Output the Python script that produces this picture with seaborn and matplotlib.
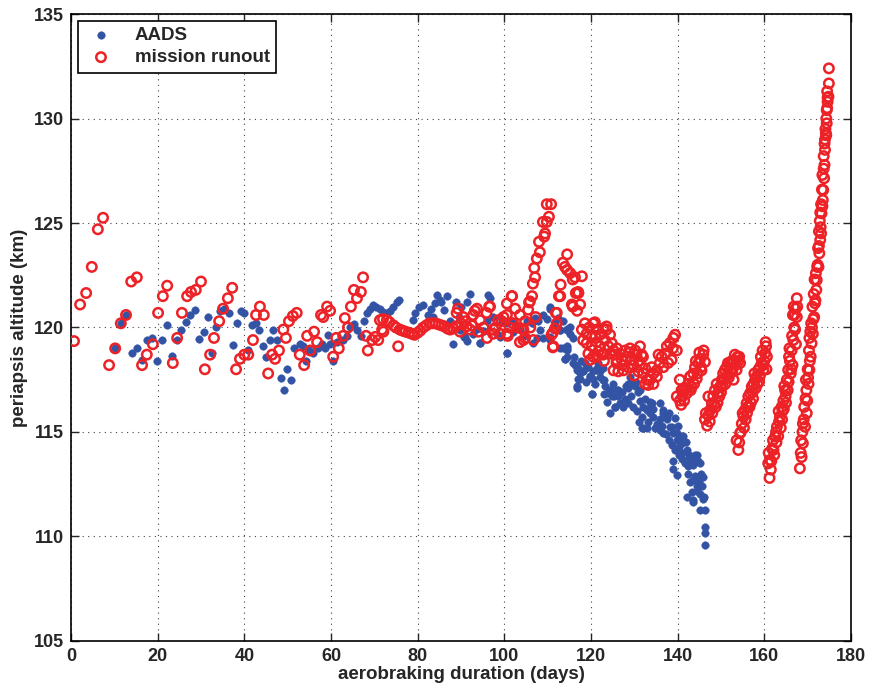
import matplotlib
matplotlib.use("Agg")
import matplotlib.pyplot as plt
import pandas as pd
import seaborn as sns

# AADS points (day, periapsis km)
aads_early = [(10.2, 119.0), (11.5, 120.2), (12.7, 120.6), (14.0, 118.8), (15.2, 119.0), (16.5, 118.45),
              (17.6, 119.4), (18.8, 119.5), (19.9, 118.4), (21.1, 119.4), (22.2, 120.1), (23.3, 118.65),
              (24.4, 119.4), (25.5, 119.9), (26.5, 120.25), (27.5, 120.6), (28.6, 120.85), (29.6, 119.45),
              (30.6, 119.8), (31.6, 120.5), (32.6, 118.8), (33.5, 120.0), (34.5, 120.8), (35.4, 120.9),
              (36.4, 120.7), (37.3, 119.15), (38.2, 120.2), (39.2, 120.8), (40.0, 120.7), (40.9, 118.9),
              (41.7, 120.1), (42.7, 120.2), (43.3, 119.9)]
aads_mid = [(44.4, 119.1), (45.0, 118.6), (45.9, 119.4), (46.7, 119.9), (47.6, 119.4), (48.4, 117.6),
            (49.2, 117.0), (49.9, 118.0), (50.7, 117.5), (51.5, 119.0), (52.8, 119.2), (53.5, 119.1),
            (54.2, 118.4), (55.0, 118.9), (55.9, 118.8), (57.1, 119.0), (57.9, 119.2), (58.6, 119.0),
            (59.2, 119.65), (59.8, 119.2), (60.5, 118.4), (61.5, 119.3), (62.8, 119.4), (63.6, 119.6),
            (64.4, 120.0), (65.3, 120.15), (66.1, 119.9), (66.9, 119.6), (67.6, 120.3), (68.2, 120.7),
            (69.0, 120.9), (69.6, 121.1), (70.4, 121.0), (71.3, 120.9), (72.1, 120.75), (72.9, 120.7),
            (73.6, 120.8), (74.4, 121.0), (75.2, 121.2), (75.8, 121.3)]
aads_plateau = [(79.0, 120.35), (79.4, 120.7), (80.2, 121.0), (81.2, 121.1), (82.3, 120.6), (83.0, 120.9),
                (83.6, 120.5), (84.0, 121.15), (84.5, 121.55), (85.5, 121.2), (86.1, 120.85), (86.7, 121.5),
                (87.5, 120.3), (88.2, 119.2), (88.8, 121.2), (89.8, 119.9), (90.0, 121.0), (90.6, 119.55),
                (91.3, 119.35), (91.5, 121.2), (92.1, 121.6), (92.8, 119.7), (93.6, 119.95), (94.4, 119.25),
                (95.2, 119.85), (95.9, 120.3), (96.3, 121.55), (97.5, 120.5), (98.2, 119.7), (99.4, 120.3),
                (100.6, 118.8), (85.2, 121.3), (90.9, 119.55), (94.4, 119.25), (96.7, 121.4), (99.0, 119.55),
                (89.5, 120.5)]
aads_decline = [(99.8, 120.35), (100.6, 120.2), (101.7, 120.3), (102.9, 120.05), (103.6, 119.95),
                (105.2, 120.3), (106.3, 120.2), (107.1, 120.45), (107.8, 120.3), (109.0, 120.6),
                (109.8, 120.4), (110.5, 120.9), (111.7, 120.2), (112.5, 120.45), (113.6, 120.3),
                (114.4, 119.9), (115.2, 120.0), (100.6, 118.8), (107.5, 119.5), (109.0, 119.5),
                (110.5, 119.4), (112.9, 119.0), (114.4, 118.9), (114.4, 118.6), (115.9, 118.3),
                (116.7, 117.95), (117.5, 117.55), (118.2, 117.9), (119.0, 118.1), (119.8, 117.7),
                (120.5, 117.55), (122.1, 117.65), (121.3, 117.95), (122.8, 117.5), (116.7, 117.1),
                (124.4, 117.0), (125.9, 117.0), (125.2, 116.7), (107.5, 120.35), (110.5, 121.0),
                (108.2, 119.9), (106.7, 119.25), (110.5, 119.55), (112.9, 119.9), (114.4, 119.1),
                (114.0, 118.5), (104.5, 119.6), (102.0, 119.8)]
aads_drop = [(112.85, 119.9), (114.4, 119.95), (115.2, 119.7), (115.9, 119.5), (113.6, 119.0), (114.4, 119.0),
             (114.0, 118.5), (116.3, 118.2), (117.1, 118.05), (117.5, 117.8), (118.2, 117.9), (116.7, 117.2),
             (117.1, 117.55), (118.6, 118.3), (119.4, 118.1), (119.8, 117.65), (120.5, 117.9), (121.3, 118.05),
             (122.1, 117.9), (122.8, 118.05), (120.2, 116.8), (123.2, 117.2), (124.0, 116.85), (123.6, 116.45),
             (124.8, 116.7), (124.4, 115.9), (125.5, 116.2), (126.3, 116.7), (127.1, 116.9), (127.9, 116.6),
             (128.6, 117.1), (129.4, 117.3), (130.2, 117.2), (130.9, 116.9), (128.6, 116.4), (127.5, 116.2),
             (129.8, 116.2), (131.3, 116.5), (132.1, 116.2), (132.9, 116.05), (133.6, 116.2), (131.7, 115.7),
             (131.7, 115.2), (132.9, 115.2), (133.6, 115.9), (134.4, 115.7), (135.2, 115.4), (135.9, 115.6),
             (136.7, 115.9), (135.9, 115.1), (137.5, 115.6), (138.2, 115.25), (137.9, 114.6), (139.0, 114.95),
             (139.8, 114.6), (140.6, 114.8), (140.9, 114.45), (139.4, 114.15), (139.0, 113.6), (140.2, 113.9),
             (141.7, 113.5), (142.5, 113.35), (143.2, 113.65), (144.4, 113.9), (145.2, 113.5), (142.5, 113.0),
             (143.6, 112.7), (144.4, 112.4), (143.2, 112.15), (145.2, 112.05), (145.5, 113.0), (145.9, 112.85),
             (142.1, 111.9), (143.6, 111.65), (145.9, 111.8), (145.2, 111.25), (146.3, 111.25), (146.3, 110.45),
             (146.3, 110.15), (146.3, 109.6)]
aads_drop_extra = [(120.2, 116.8), (122.9, 117.5), (124.4, 116.85), (125.5, 116.2), (126.3, 117.0),
                   (128.6, 117.3), (129.0, 117.65), (130.5, 117.4), (131.3, 117.0), (133.6, 116.45),
                   (134.4, 116.1), (135.9, 116.4), (136.7, 116.05), (137.5, 115.7), (138.6, 115.25),
                   (139.4, 115.65), (132.1, 115.2), (135.2, 115.25), (136.7, 114.95), (139.8, 114.95),
                   (141.3, 114.8), (140.2, 114.3), (140.9, 114.0), (142.1, 114.15), (142.9, 113.8),
                   (141.7, 113.6), (143.6, 113.4), (144.0, 113.9), (144.8, 112.85), (142.9, 112.6),
                   (144.4, 112.2), (146.0, 111.9), (143.6, 111.75), (139.8, 112.95), (139.0, 113.25),
                   (116.0, 118.6), (117.8, 118.4), (118.9, 117.4), (120.9, 117.3), (121.7, 118.3),
                   (123.0, 116.8), (125.0, 117.3), (126.8, 116.4), (128.0, 117.2), (129.2, 116.7),
                   (130.6, 116.0), (131.0, 115.5), (132.5, 116.6), (133.2, 115.5), (134.0, 116.4),
                   (134.8, 115.2), (136.3, 115.3), (137.2, 114.9), (138.0, 115.9), (138.8, 114.4),
                   (140.0, 115.3), (141.0, 113.7), (141.9, 114.5), (142.7, 113.9), (143.9, 112.9),
                   (144.7, 113.6), (145.6, 112.4), (145.0, 112.6)]

# mission runout points (day, periapsis km)
runout_early = [(0.7, 119.35), (2.1, 121.1), (3.5, 121.65), (4.8, 122.9), (6.2, 124.7), (7.4, 125.25),
                (8.8, 118.2), (10.2, 119.0), (11.5, 120.2), (12.7, 120.6), (13.9, 122.2), (15.2, 122.4),
                (16.4, 118.2), (17.5, 118.7), (18.9, 119.2), (20.1, 120.7), (21.2, 121.5), (22.2, 122.0),
                (23.5, 118.3), (24.5, 119.5), (25.6, 120.7), (26.8, 121.5), (27.7, 121.7), (28.8, 121.8),
                (30.0, 122.2), (30.9, 118.0), (32.1, 118.7), (33.0, 119.5), (34.2, 120.3), (35.1, 120.9),
                (36.2, 121.4), (37.2, 121.9), (38.1, 118.0), (39.0, 118.5), (40.0, 118.7), (40.9, 118.7),
                (42.0, 119.4), (42.7, 120.6), (43.6, 121.0), (44.5, 120.6), (45.5, 117.8), (46.4, 118.7),
                (47.1, 118.5), (48.0, 118.9), (49.0, 119.9), (49.6, 119.5), (50.3, 120.3), (51.2, 120.55),
                (52.1, 120.7), (52.8, 118.7), (53.8, 118.2), (54.5, 119.6), (55.2, 118.9), (56.1, 119.8),
                (56.8, 119.3), (57.7, 120.6), (58.2, 120.5), (59.1, 121.0), (59.8, 120.8), (60.5, 118.6),
                (61.2, 119.5), (61.8, 119.0), (62.8, 119.6), (63.2, 120.45), (63.9, 120.0), (64.6, 121.0),
                (65.3, 121.8), (66.0, 121.4), (66.9, 121.7), (67.4, 122.4), (68.1, 119.6), (68.5, 118.9),
                (69.5, 119.4), (70.2, 119.55), (70.9, 119.4), (71.8, 119.9)]
runout_band = [(71.3, 120.35), (72.0, 120.4), (72.1, 119.8), (72.9, 120.35), (73.5, 120.25), (74.4, 120.1),
               (75.0, 120.0), (75.5, 119.1), (75.9, 119.9), (76.5, 119.85), (77.2, 119.8), (78.0, 119.75),
               (78.7, 119.7), (79.3, 119.65), (80.0, 119.75), (80.6, 119.85), (81.3, 120.0), (82.0, 120.1),
               (82.7, 120.2), (83.4, 120.2), (84.1, 120.2), (84.8, 120.15), (85.5, 120.1), (86.2, 120.05),
               (86.9, 119.95), (87.5, 119.9), (88.2, 119.95), (88.8, 120.05)]
runout_plateau = [(89.0, 120.7), (89.3, 120.9), (89.8, 119.8), (90.0, 120.2), (90.5, 120.5), (91.0, 120.3),
                  (91.3, 120.05), (92.1, 119.9), (92.5, 120.1), (92.8, 120.6), (93.2, 120.8), (93.7, 120.9),
                  (94.0, 119.8), (94.4, 120.35), (95.2, 120.0), (95.9, 120.7), (96.0, 119.5), (96.5, 121.0),
                  (96.7, 121.0), (97.4, 119.7), (97.5, 119.9), (98.0, 120.0), (98.6, 120.35), (99.0, 119.7),
                  (99.4, 120.3), (99.8, 120.5), (100.6, 121.15), (100.6, 120.6), (100.6, 119.7), (100.8, 119.6),
                  (101.2, 120.0), (101.7, 121.5), (101.8, 121.5), (102.0, 120.2), (102.5, 120.9), (103.0, 120.0),
                  (103.6, 120.6), (103.6, 119.3), (104.0, 119.95), (104.4, 119.4), (104.4, 119.9), (104.8, 120.3),
                  (104.8, 119.5), (105.5, 120.85), (105.7, 121.2), (105.9, 121.25), (106.0, 120.0),
                  (106.7, 119.4), (107.2, 120.5)]
runout_spikes = [(106.4, 121.5), (106.6, 122.1), (107.1, 122.4), (106.9, 122.85), (107.5, 123.3),
                 (108.2, 123.6), (108.0, 124.1), (109.2, 124.35), (109.4, 124.5), (108.9, 125.05),
                 (109.8, 125.05), (110.3, 125.3), (109.8, 125.9), (110.8, 125.9), (110.9, 119.65),
                 (111.2, 119.75), (111.2, 119.05), (111.3, 119.1), (111.7, 119.95), (111.9, 120.7),
                 (112.1, 120.2), (112.1, 120.7), (112.6, 121.5), (112.9, 121.5), (113.0, 122.05),
                 (113.5, 123.1), (114.0, 122.9), (114.5, 123.5), (114.5, 122.75), (115.2, 122.6),
                 (115.6, 121.1), (115.8, 122.3), (115.8, 121.0), (116.3, 122.4), (116.5, 121.65),
                 (116.8, 120.8), (117.0, 121.7), (117.1, 121.65), (117.5, 121.1), (117.9, 122.45)]
runout_cluster = [(118.6, 120.2), (120.9, 120.25), (117.9, 119.9), (119.0, 119.7), (120.2, 119.55),
                  (121.3, 119.9), (122.1, 119.65), (122.8, 119.95), (123.6, 120.05), (124.4, 119.65),
                  (119.0, 119.25), (120.2, 119.1), (121.3, 119.3), (122.1, 119.1), (123.2, 119.4),
                  (124.0, 119.1), (124.8, 119.25), (119.4, 118.75), (120.5, 118.6), (121.7, 118.85),
                  (122.8, 118.7), (124.4, 118.75), (125.2, 118.9), (118.2, 119.4), (119.8, 118.45),
                  (121.3, 118.6), (122.8, 118.75), (125.9, 118.45), (125.2, 117.95), (120.5, 120.2),
                  (123.6, 119.9), (125.5, 118.7), (126.7, 118.75), (127.9, 118.9), (129.0, 119.0),
                  (130.2, 118.9), (131.3, 119.1), (125.9, 118.3), (127.1, 118.45), (128.2, 118.6),
                  (129.4, 118.45), (130.5, 118.7), (131.7, 118.7), (126.3, 117.9), (127.5, 117.95),
                  (128.6, 118.1), (129.8, 118.2), (130.9, 117.9), (132.1, 117.8), (132.9, 117.5),
                  (133.2, 117.25), (131.3, 118.2), (132.5, 118.05), (126.0, 119.0), (127.3, 118.2),
                  (128.9, 118.8), (130.0, 117.7), (131.0, 118.4), (132.0, 118.6), (123.0, 118.4),
                  (121.0, 119.6), (119.6, 120.0)]
runout_rise_a = [(133.6, 117.5), (134.4, 117.8), (135.2, 117.95), (135.9, 118.3), (136.3, 118.6),
                 (137.1, 118.75), (137.5, 119.1), (138.2, 119.25), (139.0, 119.5), (139.4, 119.65),
                 (139.8, 118.9), (138.6, 118.45), (136.7, 118.1), (135.2, 117.65), (134.4, 117.3),
                 (132.5, 117.3), (134.0, 118.1), (135.6, 118.7), (137.8, 118.3), (138.9, 119.0)]
runout_rise_b = [(140.5, 116.5), (141.1, 116.7), (141.7, 117.1), (142.5, 117.3), (142.9, 117.65),
                 (143.6, 117.8), (144.0, 118.1), (144.8, 118.3), (145.2, 118.5), (145.9, 118.7),
                 (146.3, 118.35), (145.5, 117.95), (144.4, 117.55), (143.2, 117.15), (142.1, 116.85),
                 (140.9, 117.0), (140.5, 117.5), (139.8, 116.7), (141.3, 117.0), (142.9, 117.65),
                 (140.8, 116.3), (141.5, 116.5), (142.2, 117.1), (143.0, 117.0), (143.8, 117.3),
                 (144.6, 117.8), (145.4, 118.1), (146.0, 118.9), (144.2, 118.4), (145.0, 118.8)]
runout_rise_c = [(146.3, 115.6), (146.8, 115.3), (147.1, 115.8), (147.5, 116.05), (147.9, 116.37),
                 (147.1, 116.7), (148.0, 115.9), (148.2, 116.7), (148.6, 117.0), (148.8, 116.2),
                 (149.0, 117.3), (149.2, 116.4), (149.6, 116.7), (149.8, 117.17), (150.0, 116.9),
                 (150.2, 117.5), (150.5, 117.8), (150.9, 117.97), (151.0, 117.3), (151.3, 118.1),
                 (151.8, 117.6), (152.1, 118.3), (152.5, 118.4), (152.6, 117.9), (152.9, 117.5),
                 (153.2, 118.7), (153.4, 118.2), (153.6, 117.97), (153.8, 118.6), (154.0, 118.4),
                 (154.4, 118.3), (146.5, 115.9), (147.4, 115.5), (148.4, 116.3), (149.4, 116.9),
                 (150.4, 117.2), (151.5, 117.7), (152.3, 118.0), (153.0, 118.4), (154.2, 118.6),
                 (150.7, 117.5), (151.6, 118.3)]
runout_rise_d = [(153.6, 114.6), (154.0, 114.14), (154.4, 114.94), (154.6, 115.0), (154.8, 115.4),
                 (155.0, 115.9), (155.2, 115.73), (155.5, 116.05), (155.7, 115.6), (155.9, 116.37),
                 (156.1, 116.2), (156.3, 116.7), (156.7, 116.85), (156.9, 116.4), (157.1, 117.17),
                 (157.3, 116.9), (157.5, 117.3), (157.9, 117.5), (158.0, 117.1), (158.2, 117.65),
                 (158.6, 117.97), (158.8, 117.4), (159.0, 118.1), (159.2, 118.6), (159.4, 118.3),
                 (159.6, 118.9), (159.8, 117.97), (160.0, 118.4), (160.2, 118.77), (160.4, 119.1),
                 (160.5, 118.0), (154.2, 114.5), (155.3, 115.2), (156.0, 115.9), (156.6, 116.2),
                 (157.4, 116.6), (158.4, 117.3), (159.0, 117.7), (159.7, 118.2), (160.3, 119.3),
                 (160.6, 118.6), (157.7, 117.8)]
runout_rise_e = [(160.9, 113.5), (161.2, 112.8), (161.3, 113.66), (161.6, 113.6), (161.8, 114.2),
                 (162.1, 114.14), (162.3, 113.9), (162.5, 114.78), (162.7, 115.0), (162.9, 115.25),
                 (163.2, 114.8), (163.4, 115.5), (163.6, 115.73), (163.8, 115.2), (164.0, 116.2),
                 (164.2, 116.0), (164.4, 116.5), (164.6, 117.2), (164.8, 117.0), (165.0, 116.4),
                 (165.2, 117.5), (165.4, 117.0), (165.5, 117.97), (165.7, 118.6), (165.9, 118.4),
                 (166.1, 117.8), (166.3, 118.9), (166.5, 118.2), (166.7, 119.4), (166.9, 120.0),
                 (167.0, 120.6), (167.1, 119.9), (167.3, 119.2), (167.5, 120.5), (166.8, 121.0),
                 (167.6, 121.0), (167.5, 121.4), (161.0, 114.0), (161.5, 113.2), (162.0, 114.6),
                 (162.8, 114.5), (163.3, 116.0), (164.1, 115.6), (164.9, 116.7), (165.6, 117.4),
                 (166.2, 118.0), (166.4, 119.6), (166.6, 120.6), (167.2, 120.9), (165.8, 119.0),
                 (164.5, 116.1)]
runout_rise_f = [(168.2, 113.26), (168.4, 114.0), (168.6, 113.8), (168.8, 115.0), (168.9, 114.46),
                 (169.1, 115.6), (169.4, 115.25), (169.5, 116.6), (169.7, 117.0), (169.8, 115.9),
                 (169.9, 116.5), (170.0, 118.0), (170.2, 117.3), (170.3, 118.9), (170.4, 117.97),
                 (170.6, 119.8), (170.7, 118.6), (170.8, 120.2), (170.9, 119.24), (171.1, 121.0),
                 (171.2, 119.7), (171.4, 121.6), (171.5, 120.5), (171.6, 122.3), (171.7, 121.16),
                 (171.9, 122.6), (172.0, 121.8), (172.1, 122.27), (172.3, 123.0), (172.4, 123.8),
                 (172.5, 122.9), (172.6, 124.6), (172.7, 123.55), (172.8, 125.1), (172.9, 124.19),
                 (173.0, 124.8), (173.1, 125.9), (173.2, 125.46), (173.3, 126.6), (173.4, 127.3),
                 (173.5, 126.1), (173.6, 126.58), (173.7, 128.2), (173.8, 127.14), (173.9, 127.78),
                 (173.9, 128.8), (174.0, 128.5), (174.1, 129.5), (174.2, 129.3), (174.3, 130.0),
                 (174.4, 129.77), (174.4, 130.4), (174.5, 130.5), (174.6, 131.0), (174.8, 131.04),
                 (174.9, 131.68), (174.9, 132.4), (168.5, 114.6), (168.9, 115.4), (169.2, 116.2),
                 (169.6, 117.5), (170.1, 117.6), (170.5, 118.4), (171.0, 120.0), (171.3, 120.4),
                 (171.8, 121.3), (172.2, 122.9), (172.6, 123.9), (173.1, 124.5), (173.4, 125.8),
                 (173.7, 127.6), (174.0, 129.0), (174.3, 129.2), (174.6, 130.8), (174.5, 131.3),
                 (172.9, 125.5), (170.4, 119.5)]

aads = pd.DataFrame(aads_early + aads_mid + aads_plateau + aads_decline + aads_drop + aads_drop_extra,
                    columns=['day', 'km'])
runout = pd.DataFrame(runout_early + runout_band + runout_plateau + runout_spikes + runout_cluster +
                      runout_rise_a + runout_rise_b + runout_rise_c + runout_rise_d + runout_rise_e +
                      runout_rise_f, columns=['day', 'km'])

sns.set_style('ticks')
plt.rcParams['font.family'] = ['Liberation Sans', 'DejaVu Sans']
plt.rcParams['font.weight'] = 'bold'

fig = plt.figure(figsize=(8.72, 6.91), dpi=100)
ax = fig.add_axes([0.0814, 0.0724, 0.8945, 0.9073])

sns.scatterplot(data=aads, x='day', y='km', ax=ax, marker='o', s=30, color='#3353a4',
                edgecolor='#3353a4', linewidth=0.3, label='AADS', zorder=3)
sns.scatterplot(data=runout, x='day', y='km', ax=ax, marker='o', s=46, facecolor='none',
                edgecolor='#ec2227', linewidth=1.8, label='mission runout', zorder=4)

ax.set_xlim(0, 180)
ax.set_ylim(105, 135)
ax.set_xticks(range(0, 181, 20))
ax.set_yticks(range(105, 136, 5))
ax.grid(True, color='#444444', linestyle=(0, (1, 4)), linewidth=0.8)
ax.set_axisbelow(True)
ax.tick_params(direction='in', length=6, width=1.0, top=True, right=True, labelsize=13, pad=5)
for lab in ax.get_xticklabels() + ax.get_yticklabels():
    lab.set_fontweight('bold')
for sp in ax.spines.values():
    sp.set_visible(True)
    sp.set_linewidth(1.2)
    sp.set_color('black')

ax.set_xlabel('aerobraking duration (days)', fontsize=13.5, fontweight='bold', labelpad=1)
ax.set_ylabel('periapsis altitude (km)', fontsize=13.5, fontweight='bold', labelpad=4)

leg = ax.legend(loc='upper left', fontsize=13.5, frameon=True, fancybox=False, framealpha=1,
                edgecolor='black', borderaxespad=0.35, handletextpad=0.9, labelspacing=0.25,
                borderpad=0.35, handlelength=1.8)
leg.get_frame().set_linewidth(1.2)
for t in leg.get_texts():
    t.set_fontweight('bold')

fig.savefig('out.png', dpi=100)
